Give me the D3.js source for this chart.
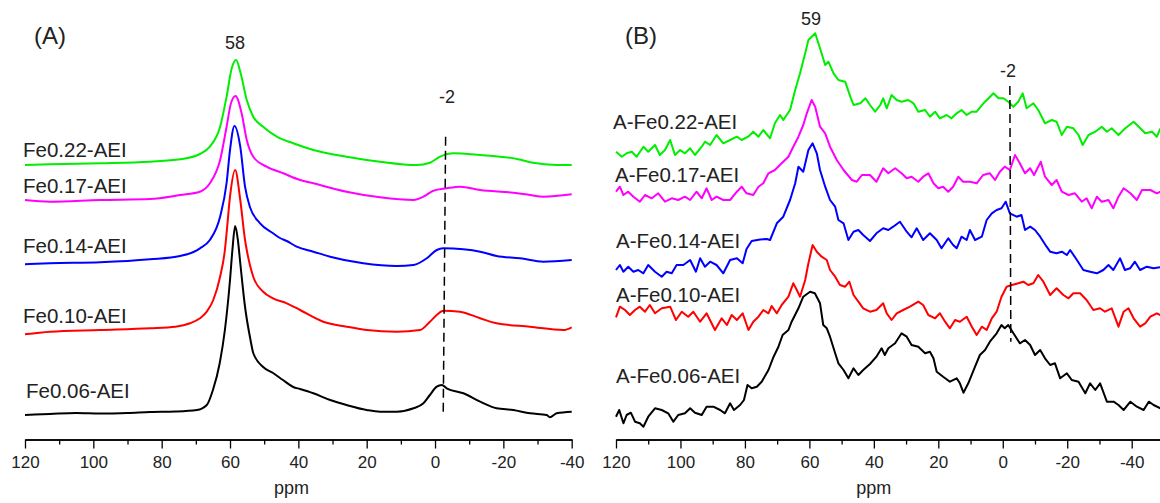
<!DOCTYPE html>
<html>
<head>
<meta charset="utf-8">
<script src="https://cdn.jsdelivr.net/npm/d3@7"></script>
<style>
    body { margin: 0; background: #fff; }
    svg { display: block; font-family: Arial, "Liberation Sans", sans-serif; }
    .axis path, .axis line { stroke: #000; stroke-width: 1.3; }
    .axis text { font-size: 17px; fill: #222; }
</style>
</head>
<body>
<script>
// 27Al MAS NMR spectra, two stacked panels. values = [ppm, intensity (a.u.)]

// panel (A)
var specA06 = [[120,25],[112.7,26],[105,27],[98,26.5],[90,27],[83.4,28],[76,28.5],[69.7,30],[66.8,35],[65,50],[63,77],[61.5,110],[60,160],[59.3,190],[58.5,214],[57.7,200],[57,177],[55.6,133],[54,100],[53.2,87],[50.3,73],[47.4,67],[44.5,60],[41.5,53],[39.5,51],[35.6,46.7],[30.7,40],[25.9,35],[20,30],[16.1,28.3],[11.2,28.3],[6.3,31.7],[3.4,36.7],[1.5,45],[-0.5,53.3],[-2,55],[-3.4,51.7],[-8.3,46.7],[-13.2,38.3],[-18,31.7],[-22.9,30],[-27.8,26.7],[-32.7,25],[-33.6,22.7],[-35.6,26.7],[-40,28.3]];
var specA10 = [[120,105.7],[112.7,108.3],[98,110],[83.4,111.7],[76,113.3],[71.7,116.7],[68.8,121.7],[66.8,128.3],[64.9,140],[62.9,163.3],[61.5,190],[61,207],[60,243.3],[58.5,270],[57,240],[55.6,200],[55.1,190],[53.2,163.3],[50.3,148.3],[47.4,141.7],[43.4,136.7],[39.5,130],[32.7,118.3],[25.9,113.3],[20,110],[11.2,108.3],[4.4,110],[1.5,118.3],[-0.5,125],[-2.4,129.3],[-7.3,128.3],[-13.2,121.7],[-18,116.7],[-27.8,113.3],[-37.6,110],[-40,112.7]];
var specA14 = [[120,175.7],[112.7,176.7],[98,177.7],[83.4,180.7],[74.6,184],[70.7,188],[68.8,191.7],[65.9,200],[62.9,223.3],[61,257],[60,290],[58.7,314],[57,293.3],[55.6,253.3],[54.2,233.3],[51.2,216.7],[47.4,206.7],[45.4,202],[43.4,199],[40.5,193.3],[35.6,188.3],[30.7,183.3],[21,176.7],[11.2,174],[6.3,175],[2.4,181.7],[-0.5,190],[-2.4,191.7],[-8.3,190.7],[-13.2,188.3],[-18,184],[-24.9,181.7],[-31.7,178.3],[-40,180]];
var specA17 = [[120,240],[112.7,238.3],[98,240],[83.4,241],[74.6,245],[68.8,248.3],[65.9,256.7],[62.9,280],[61,313.3],[59.7,337],[58.4,344],[56.6,326.7],[55.1,300],[53.2,283.3],[49.3,273.3],[44.4,266.7],[39.5,260],[35.6,256.7],[25.9,248.3],[16.1,242.7],[6.3,240],[3.4,243.3],[0.5,249.3],[-3.4,251.7],[-7.3,253.3],[-13.2,250],[-22.9,247.3],[-27.8,245],[-31.7,243.3],[-40,245.7]];
var specA22 = [[120,275],[112.7,275.7],[98,276.7],[83.4,278.3],[74.6,280.7],[68.8,286],[65.9,293.3],[62.9,313.3],[61,343.3],[59.5,371.7],[58.2,380],[57,368.3],[55.1,340],[53.2,323.3],[50.3,313.3],[46.3,303.3],[41.5,296.7],[35.6,290],[25.9,283.3],[16.1,278.3],[5.4,275],[1.5,277.3],[-1.5,283.3],[-5.4,286.7],[-13.2,285],[-22.9,281.7],[-29.8,276.7],[-35.6,275],[-40,275]];

// panel (B)
var specB06 = [[120,23.3],[119,30],[117.7,16.7],[116.7,25],[115.4,27.3],[114.1,18.3],[112.6,16.7],[111.5,13.3],[110,23.3],[107.9,31.7],[105.8,30],[103.8,26.7],[102.2,18.3],[100.7,25],[98.6,26.7],[97,31.7],[95.5,27.3],[93.4,25],[91.9,33.3],[89.8,33.3],[87.7,30],[86.2,26.7],[84.6,36.7],[83.4,30],[81.5,35],[80.3,40],[79.2,55],[77.9,51.7],[76.3,53.3],[74.8,58.3],[72.7,70],[71.1,83.3],[69.6,93.3],[68.3,105],[66.5,110],[65.5,118.3],[63.4,131.7],[61.9,143.3],[59.8,148.3],[58.3,146.7],[56.7,136.7],[55.7,115],[54.6,111.7],[53.6,103.3],[52,86.7],[51,76.7],[49.4,70],[47.9,61.7],[46.3,71.7],[44.8,65],[43.3,70],[41.2,76],[39.2,83.3],[37.6,91.7],[36.6,85],[35.5,91.7],[33.4,96.7],[31.4,106.7],[29.8,103.3],[28.3,95],[26.2,93.3],[24.1,86.7],[22.6,88.3],[21.5,81.7],[20.5,68.3],[18.5,63.3],[16.4,58.3],[14.3,61.7],[13.3,56.7],[12.2,47.3],[10.7,56.7],[8.6,73.3],[7.1,85],[5.5,90],[4,98.3],[1.9,106.7],[0.4,115],[-0.6,111.7],[-1.7,115],[-3.3,106.7],[-5.3,96.7],[-6.9,100],[-8.5,95],[-10,85],[-11.6,90],[-13.1,81.7],[-14.7,75],[-16.2,76.7],[-17.8,61.7],[-19.9,66.7],[-21.4,60],[-23.5,58.3],[-25.6,46.7],[-27.1,56.7],[-28.7,50],[-30.2,56.7],[-32.3,38.3],[-34.4,38.3],[-35.9,35],[-37.5,30],[-39.6,38.3],[-41.6,33.3],[-43.7,30],[-45.3,38.3],[-46.8,35],[-48.9,31.7]];
var specB10 = [[120,122.7],[118.8,133.3],[117.2,130],[115.7,125],[114.1,130],[112.6,133.3],[111,128.3],[109.5,135],[107.9,126.7],[105.8,131.7],[103.2,133.3],[101.4,120],[99.6,128.3],[97.6,123.3],[96,128.3],[93.9,118.3],[91.9,126.7],[89.3,110],[87.2,121.7],[85.6,115],[84.1,125],[82.5,120],[80.7,126.7],[78.9,110],[77.4,118.3],[75.8,123.3],[74.3,130],[72.7,126.7],[71.7,134],[70.1,126.7],[68.6,135],[66.5,143.3],[65,156.7],[63.9,150],[62.9,143.3],[61.3,160],[60.3,176.7],[59,195],[57.7,188.3],[56.2,183.3],[54.6,180],[53.6,170],[52,163.3],[50.5,155],[48.9,153.3],[47.6,158.3],[46.3,145],[44.8,138.3],[43.3,131.7],[41.2,128.3],[39.2,130],[37.1,136.7],[36,126.7],[34.5,120],[32.9,126.7],[30.9,130],[28.8,133.3],[26.2,138.3],[24.7,135],[23.1,125],[21,121.7],[19.5,126.7],[17.9,118.3],[16.4,111.7],[14.8,120],[13.3,118.3],[11.2,123.3],[9.6,113.3],[8.1,105],[6.5,113.3],[5,110],[3.4,121.7],[1.9,128.3],[0.4,143.3],[-1.2,153.3],[-2.8,155],[-4.8,156.7],[-6.4,158.3],[-7.9,155],[-9.5,156.7],[-11,165],[-12.6,158.3],[-14.7,145],[-16.7,151.7],[-18.8,145],[-20.4,141.7],[-21.9,146.7],[-24,146.7],[-26,140],[-28.1,130],[-30.2,131.7],[-31.7,128.3],[-33.8,131.7],[-35.9,113.3],[-37.5,128.3],[-39,131.7],[-40.6,121.7],[-42.6,113.3],[-44.2,116.7],[-45.8,123.3],[-47.8,126.7],[-48.9,125]];
var specB14 = [[120,170],[118.8,175],[117.7,168.3],[116.2,173.3],[114.6,168.3],[113.1,170],[111.5,166.7],[110,175],[107.9,168.3],[105.8,163.3],[104.3,168.3],[102.7,166.7],[101.2,175],[99.1,175],[97,180],[95.2,168.3],[93.9,181.7],[92.4,173.3],[90.8,178.3],[88.8,175],[86.7,166.7],[84.6,180],[82.5,181.7],[80.7,176.7],[79.5,191],[77.9,199],[75.3,200.5],[73.2,201],[72.2,200],[70.1,216.7],[68.1,223.3],[66,240],[64.4,256.7],[63.4,273.3],[61.9,268.3],[60.3,290],[59,296.7],[57.7,286.7],[56.7,270],[55.1,253.3],[53.6,240],[52,233.3],[51,220],[49.4,216.7],[47.9,200],[46.3,208.3],[44.8,210],[43.3,205],[41.2,199],[39.2,206.7],[37.1,211.7],[35.5,210],[34,213.3],[31.9,218.3],[29.8,208.3],[28.3,202.7],[26.7,211.7],[24.7,200],[22.6,206.7],[20.5,200],[19,191.7],[16.9,201.7],[15.4,195],[14.3,191.7],[12.8,203.3],[11.2,200],[10.2,210],[8.6,200],[6.5,203.3],[5,220],[3.4,226.7],[1.9,230],[0.4,231.7],[-0.9,238.3],[-2.2,226.7],[-4.3,223.3],[-5.8,225],[-6.9,210],[-8.5,213.3],[-10,210],[-11.6,203.3],[-13.6,193.3],[-14.7,188.3],[-16.7,186.7],[-18.3,188.3],[-19.9,185],[-20.9,190],[-23,180],[-25,170],[-27.1,168.3],[-29.2,166.7],[-31.2,170],[-32.8,175],[-34.3,170],[-36.4,181.7],[-37.9,170],[-39.5,171.7],[-41,178.3],[-42.6,170],[-44.7,173.3],[-46.8,171.7],[-48.9,172.7]];
var specB17 = [[120,248.3],[118.8,253.3],[117.7,245],[116.2,248.3],[114.6,243.3],[112.6,238.3],[111,245],[108.9,241.7],[106.9,246.7],[104.8,238.3],[102.7,241.7],[100.7,240],[98.6,243.3],[97,240],[95,248.3],[93.4,241.7],[91.9,251.7],[90.3,240],[88.8,243.3],[86.7,240],[84.6,240],[82.5,248.3],[81,253.3],[79.5,246.7],[77.4,245],[75.8,253.3],[74.3,256.7],[72.7,266.7],[70.7,270],[68.6,276.7],[66.5,283.3],[65,293.3],[63.4,303.3],[61.9,315],[60.8,326.7],[59.3,340],[58.2,333.3],[56.7,313.3],[55.1,306.7],[53.6,293.3],[51.5,280],[49.4,270],[46.8,260],[45.3,258.3],[43.7,265],[42.2,265],[41.2,265],[39.2,258.3],[37.1,271.7],[35.5,266.7],[33.4,271.7],[31.4,266.7],[29.8,261.7],[28.3,263.3],[26.2,258.3],[24.7,263.3],[23.1,266.7],[21.5,256.7],[20,251.7],[18.5,253.3],[16.9,248.3],[15.4,253.3],[13.8,263.3],[12.3,258.3],[10.2,258.3],[8.1,256.7],[6.1,265],[4,266.7],[2.4,260],[0.9,268.3],[-0.6,273.3],[-2.2,270],[-3.8,285],[-5.3,276.7],[-6.9,266.7],[-8.5,271.7],[-9.7,265],[-11.8,278.3],[-13.1,263.3],[-15.2,255],[-16.7,260],[-18.3,248.3],[-20.4,245],[-22.4,246.7],[-24.5,238.3],[-26,241.7],[-27.6,231.7],[-29.2,243.3],[-30.7,238.3],[-32.8,240],[-34.3,231.7],[-35.9,243.3],[-37.5,251.7],[-39.6,246.7],[-41.6,240],[-43.2,250],[-45.8,250],[-47.8,246.7],[-48.9,248.3]];
var specB22 = [[120,288.3],[118.2,283.3],[116.7,286.7],[115.1,288.3],[113.6,283.3],[111.5,293.3],[110,288.3],[107.9,295],[106.4,285],[104.8,290],[103.2,300],[101.7,285],[100.1,290],[98.6,286.7],[97,291.7],[95.5,285],[93.4,293.3],[92.4,298.3],[90.8,295],[88.8,305],[86.7,296.7],[84.6,300],[82.5,303.3],[81,300],[79,303.3],[77.4,308.3],[75.8,303.3],[74.3,310],[72.2,301.7],[70.7,316.7],[69.1,325],[68.1,320],[66,330],[64.4,350],[62.9,366.7],[61.3,386.7],[60.3,400],[59.3,403.3],[58.2,406.7],[56.7,391.7],[55.1,375],[54.1,378.3],[52.5,366.7],[51,360],[48.9,358.3],[47.3,343.3],[46.3,335],[44.2,336.7],[42.6,341.7],[41.2,335],[39.6,328.3],[38,335],[37.1,341.7],[36,331.7],[34.5,345],[32.9,340],[31.4,338.3],[29.3,340],[27.7,336.7],[26.2,328.3],[24.1,330],[22.6,323.3],[21,328.3],[19.5,321.7],[17.4,325],[15.9,321.7],[14.3,326.7],[12.8,330],[11.2,325],[9.6,328.3],[8.1,328.3],[6,336.7],[4.4,341.7],[2.9,346.7],[1.3,341.7],[-0.2,341.7],[-1.7,338.3],[-3.3,333.3],[-4.8,338.3],[-6.2,346.7],[-7.4,331.7],[-9.5,336.7],[-11,330],[-13.1,316.7],[-15.2,320],[-16.7,318.3],[-18.3,305],[-19.9,313.3],[-21.9,311.7],[-23.5,305],[-24.8,295],[-26.6,305],[-28.7,308.3],[-30.7,313.3],[-32.3,308.3],[-33.8,311.7],[-35.9,305],[-38,311.7],[-40.6,318.3],[-42.2,313.3],[-44.2,306.7],[-46.3,308.3],[-47.8,303.3],[-48.9,311.7]];

var namesA = ["Fe0.06-AEI", "Fe0.10-AEI", "Fe0.14-AEI", "Fe0.17-AEI", "Fe0.22-AEI"];
var namesB = ["A-Fe0.06-AEI", "A-Fe0.10-AEI", "A-Fe0.14-AEI", "A-Fe0.17-AEI", "A-Fe0.22-AEI"];
var colors = ["#000000", "#ff0000", "#0000ff", "#ff00ff", "#00ee00"];
var majorTicks = [120, 100, 80, 60, 40, 20, 0, -20, -40];
var minorTicks = [110, 90, 70, 50, 30, 10, -10, -30];

window.onload = drawChart();

function drawChart(){

    var width = 1160,
        height = 503;

    var svg = d3.select("body")
        .append("svg")
        .attr("width", width)
        .attr("height", height);

    // shared intensity scale (stacked offsets already in the values)
    var y = d3.scaleLinear()
        .domain([0, 440])
        .range([440, 0]);

    var panelA = {
        x: d3.scaleLinear().domain([120, -40]).range([25, 571.7]),
        series: [specA06, specA10, specA14, specA17, specA22],
        names: namesA,
        labelX: [26, 23, 23, 23, 23],
        labelY: [42, 117, 187.3, 247, 283],
        tag: "(A)", tagX: 34,
        peak: "58", peakAt: [58.5, 390.7],
        al: "-2", alAt: [-3.5, 337.3],
        dash: [[-3.1, 303.3], [-2.4, 27]],
        ppmAt: 42,
        curve: d3.curveMonotoneX
    };

    var panelB = {
        x: d3.scaleLinear().domain([120, -49]).range([616, 1160.7]),
        series: [specB06, specB10, specB14, specB17, specB22],
        names: namesB,
        labelX: [616, 616, 616, 615, 613],
        labelY: [57.5, 138.3, 192.5, 258.5, 311],
        tag: "(B)", tagX: 625,
        peak: "59", peakAt: [59.5, 415],
        al: "-2", alAt: [-1.6, 362.7],
        dash: [[-2.2, 354], [-2.5, 98.3]],
        ppmAt: 40,
        curve: d3.curveLinear
    };

    [panelA, panelB].forEach(function(p){
        drawPanel(svg, p, y);
    });
};

function drawPanel(svg, p, y){

    var g = svg.append("g");

    // spectra
    var line = d3.line()
        .x(function(d){ return p.x(d[0]); })
        .y(function(d){ return y(d[1]); })
        .curve(p.curve);

    g.selectAll(".spec")
        .data(p.series)
        .enter()
        .append("path")
        .attr("class", "spec")
        .attr("d", line)
        .attr("fill", "none")
        .attr("stroke", function(d, i){ return colors[i]; })
        .attr("stroke-width", 2)
        .attr("stroke-linejoin", "round");

    // sample names
    g.selectAll(".name")
        .data(p.names)
        .enter()
        .append("text")
        .attr("class", "name")
        .attr("x", function(d, i){ return p.labelX[i]; })
        .attr("y", function(d, i){ return y(p.labelY[i]); })
        .attr("font-size", "20.5px")
        .attr("fill", "#222")
        .text(function(d){ return d; });

    // dashed marker at -2 ppm
    g.append("line")
        .attr("x1", p.x(p.dash[0][0]))
        .attr("y1", y(p.dash[0][1]))
        .attr("x2", p.x(p.dash[1][0]))
        .attr("y2", y(p.dash[1][1]))
        .attr("stroke", "#000")
        .attr("stroke-width", 1.5)
        .attr("stroke-dasharray", "9,5");

    // peak annotations
    g.append("text")
        .attr("x", p.x(p.peakAt[0]))
        .attr("y", y(p.peakAt[1]))
        .attr("text-anchor", "middle")
        .attr("font-size", "18px")
        .attr("fill", "#222")
        .text(p.peak);

    g.append("text")
        .attr("x", p.x(p.alAt[0]))
        .attr("y", y(p.alAt[1]))
        .attr("text-anchor", "middle")
        .attr("font-size", "18px")
        .attr("fill", "#222")
        .text(p.al);

    g.append("text")
        .attr("x", p.tagX)
        .attr("y", 43.5)
        .attr("font-size", "24px")
        .attr("fill", "#222")
        .text(p.tag);

    // x axis, major + minor ticks
    var axisY = 439.5;

    g.append("g")
        .attr("class", "axis")
        .attr("transform", "translate(0," + axisY + ")")
        .call(d3.axisBottom(p.x)
            .tickValues(minorTicks)
            .tickSize(5)
            .tickSizeOuter(0)
            .tickFormat(""));

    // plain hyphen for negatives, like the original figure
    var ax = g.append("g")
        .attr("class", "axis")
        .attr("transform", "translate(0," + axisY + ")")
        .call(d3.axisBottom(p.x)
            .tickValues(majorTicks)
            .tickSize(9)
            .tickSizeOuter(0)
            .tickPadding(7)
            .tickFormat(function(d){ return String(d); }));
    ax.attr("font-family", null).attr("font-size", null);

    g.append("text")
        .attr("x", p.x(p.ppmAt))
        .attr("y", 494)
        .attr("text-anchor", "middle")
        .attr("font-size", "18px")
        .attr("fill", "#222")
        .text("ppm");
};
</script>
</body>
</html>
